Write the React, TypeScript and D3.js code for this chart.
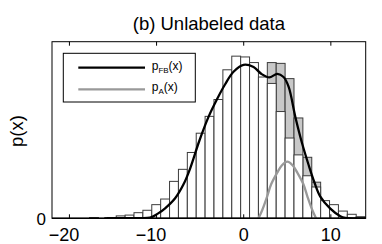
import { useRef, useEffect } from "react";
import * as d3 from "d3";

// histogram bins (centre, width 1.02), counts of the unlabeled sample
const binCenters = [-17.18, -16.16, -15.14, -14.12, -13.1, -12.08, -11.06, -10.04, -9.02, -8.0, -6.98,
  -5.96, -4.94, -3.92, -2.9, -1.88, -0.86, 0.16, 1.18, 2.2, 3.22, 4.24, 5.26, 6.28, 7.3, 8.32, 9.34,
  10.36, 11.38, 12.4, 13.42];
const binWidth = 1.02;
const countsOther = [1, 0, 1, 3, 4, 7, 10, 17, 24, 46, 61, 82, 106, 127, 148, 185, 202, 201, 194, 176,
  168, 133, 100, 79, 53, 39, 22, 17, 9, 5, 2];
const countsA = [0, 0, 0, 0, 0, 0, 0, 0, 0, 0, 0, 0, 0, 0, 0, 0, 0, 0, 0, 0,
  26, 60, 74, 46, 23, 6, 0, 0, 0, 0, 0];

// fitted densities (same units as counts)
const fbX = [-16, -12.5, -10.75, -9.9, -9.02, -7.87, -6.92, -6.15, -5.11, -4.05, -3.08, -2.13, -1.17, -0.02,
  1.13, 2.01, 2.93, 3.85, 4.57, 5.15, 5.92, 6.69, 7.45, 8.1, 8.79, 9.94, 11.09, 11.67, 14];
const fbY = [0, 0.3, 0.8, 5.5, 12.5, 25, 42, 62, 96, 126, 148, 167, 182.6, 191.2,
  188.5, 180, 175.5, 179.8, 176, 164, 126.6, 93.8, 66.4, 45.2, 27, 12, 2.5, 0.5, 0];
const aX = [1.7, 2.13, 2.67, 3.16, 3.82, 4.37, 5.0, 5.63, 6.18, 6.84, 7.33, 7.87, 8.3];
const aY = [0, 10.3, 26.5, 42.7, 56.4, 65.8, 70.5, 65.8, 56.4, 42.7, 26.5, 10.3, 0];

const xTicks = [-20, -10, 0, 10];
const FONT = "'Liberation Sans', Arial, Helvetica, sans-serif";

export default function App() {
  const svgRef = useRef<SVGSVGElement>(null);

  useEffect(() => {
    if (!svgRef.current) return;
    const svg = d3.select(svgRef.current);
    svg.selectAll("*").remove();

    const left = 52, right = 365.7, top = 41.7, bottom = 218.3;
    const x = d3.scaleLinear().domain([-22, 14]).range([left, right]);
    const y = d3.scaleLinear().domain([0, 220]).range([bottom, top]);

    svg.append("rect").attr("width", 382).attr("height", 244).attr("fill", "#fff");

    svg.append("defs").append("clipPath").attr("id", "plotclip")
      .append("rect").attr("x", left).attr("y", top).attr("width", right - left).attr("height", bottom - top);

    const bars = svg.append("g");
    // gray = total (other + A), white = other drawn on top
    binCenters.forEach((c, i) => {
      if (countsA[i] <= 0) return;
      const x0 = x(c - binWidth / 2), x1 = x(c + binWidth / 2);
      bars.append("rect").attr("x", x0).attr("width", x1 - x0)
        .attr("y", y(countsOther[i] + countsA[i])).attr("height", y(0) - y(countsOther[i] + countsA[i]))
        .attr("fill", "#c8c8c8").attr("stroke", "#3c3c3c").attr("stroke-width", 1);
    });
    binCenters.forEach((c, i) => {
      const x0 = x(c - binWidth / 2), x1 = x(c + binWidth / 2);
      bars.append("rect").attr("x", x0).attr("width", x1 - x0)
        .attr("y", y(countsOther[i])).attr("height", y(0) - y(countsOther[i]))
        .attr("fill", "#fff").attr("stroke", "#3c3c3c").attr("stroke-width", 1);
    });

    const line = (xs: number[], ys: number[]) =>
      d3.line<number>().x((v) => x(v)).y((_, i) => y(ys[i])).curve(d3.curveCatmullRom.alpha(0.5))(xs);

    const curves = svg.append("g").attr("clip-path", "url(#plotclip)");
    curves.append("path").attr("d", line(aX, aY)).attr("fill", "none")
      .attr("stroke", "#999").attr("stroke-width", 2.3);
    curves.append("path").attr("d", line(fbX, fbY)).attr("fill", "none")
      .attr("stroke", "#000").attr("stroke-width", 2.3);

    // frame + ticks
    svg.append("rect").attr("x", left).attr("y", top).attr("width", right - left).attr("height", bottom - top)
      .attr("fill", "none").attr("stroke", "#000").attr("stroke-width", 1);
    svg.append("line").attr("x1", left).attr("x2", right).attr("y1", bottom).attr("y2", bottom)
      .attr("stroke", "#000").attr("stroke-width", 1.6);
    xTicks.forEach((t) => {
      svg.append("line").attr("x1", x(t)).attr("x2", x(t)).attr("y1", bottom).attr("y2", bottom - 4)
        .attr("stroke", "#000");
      svg.append("line").attr("x1", x(t)).attr("x2", x(t)).attr("y1", top).attr("y2", top + 4)
        .attr("stroke", "#000");
      svg.append("text").attr("x", x(t) + (t < 0 ? -5.5 : 0)).attr("y", 241)
        .attr("text-anchor", "middle").attr("font-size", 18).attr("font-family", FONT)
        .text(t < 0 ? `\u2212${Math.abs(t)}` : `${t}`);
    });
    svg.append("text").attr("x", 46).attr("y", 225).attr("text-anchor", "end")
      .attr("font-size", 17).attr("font-family", FONT).text("0");

    svg.append("text").attr("transform", "translate(23,131) rotate(-90)")
      .attr("text-anchor", "middle").attr("font-size", 18.5).attr("font-family", FONT).text("p(x)");

    svg.append("text").attr("x", (left + right) / 2).attr("y", 30).attr("text-anchor", "middle")
      .attr("font-size", 18.5).attr("font-family", FONT).text("(b) Unlabeled data");

    // legend
    const lg = svg.append("g");
    lg.append("rect").attr("x", 63.3).attr("y", 53.3).attr("width", 132).attr("height", 48.7)
      .attr("fill", "#fff").attr("stroke", "#000").attr("stroke-width", 1);
    const items = [
      { sub: "FB", color: "#000", ly: 67.7 },
      { sub: "A", color: "#999", ly: 89.3 },
    ];
    items.forEach((it) => {
      lg.append("line").attr("x1", 78.3).attr("x2", 145).attr("y1", it.ly).attr("y2", it.ly)
        .attr("stroke", it.color).attr("stroke-width", 2.3);
      const t = lg.append("text").attr("x", 151.7).attr("y", it.ly + 1.8)
        .attr("font-size", 12).attr("font-family", FONT);
      t.append("tspan").text("p");
      t.append("tspan").attr("font-size", 8).attr("dy", 3).text(it.sub);
      t.append("tspan").attr("dy", -3).text("(x)");
    });
  }, []);

  return (
    <svg ref={svgRef} width={382} height={244}
      style={{ position: "absolute", left: 0, top: 0 }} />
  );
}
